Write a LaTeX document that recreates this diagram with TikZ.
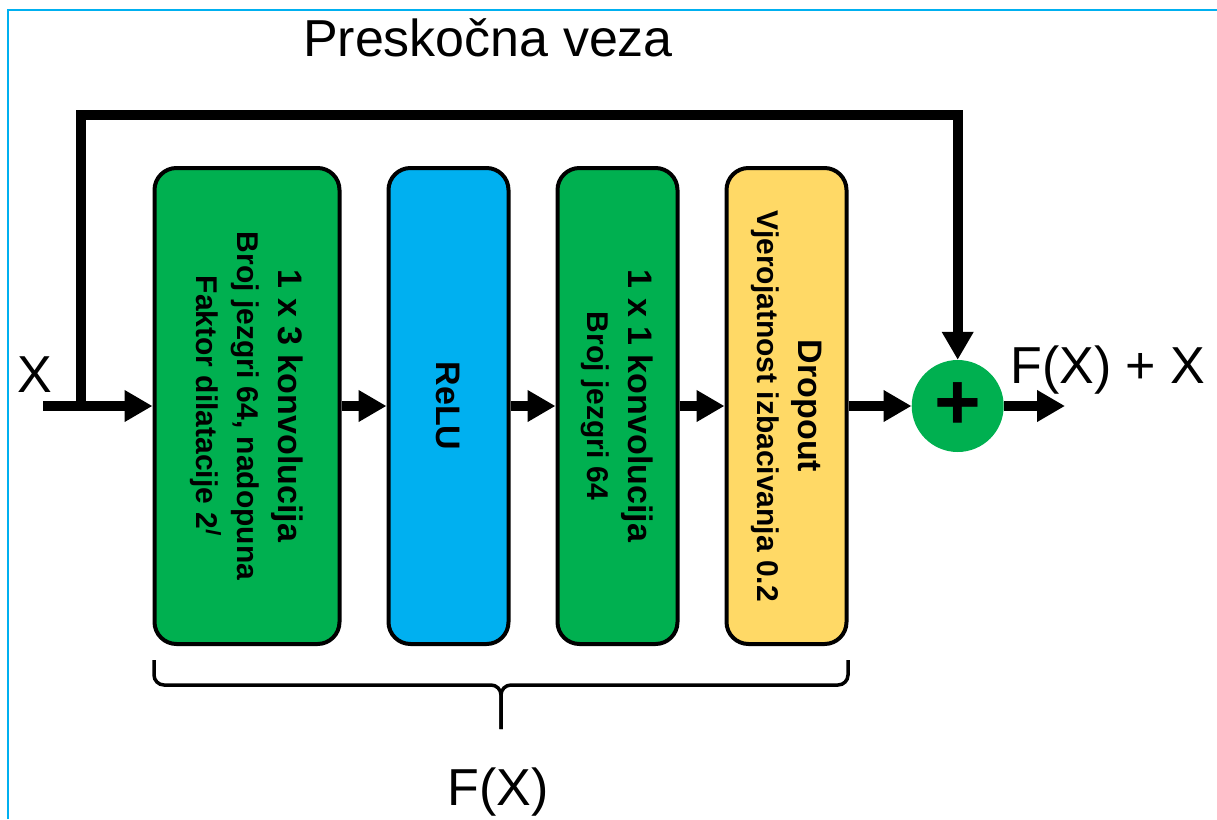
\documentclass[tikz,border=0pt]{standalone}
\usepackage{fontspec}
\setmainfont{Liberation Sans}
\usepackage{xcolor}
\usetikzlibrary{positioning, arrows.meta}
\definecolor{convgreen}{HTML}{00B050}
\definecolor{relublue}{HTML}{00B0F0}
\definecolor{dropyellow}{HTML}{FFD966}

\begin{document}
\begin{tikzpicture}[
  x=1pt, y=-1pt,
  node distance=45pt,
  block/.style={rectangle, draw, line width=4pt, rounded corners=22pt, minimum height=476pt, minimum width=120pt, inner sep=0pt},
  blocktext/.style={rotate=-90, align=center, inner sep=0pt, font=\fontsize{30}{41}\selectfont\bfseries},
  arrow/.style={-{Triangle[length=28pt, width=30pt]}, line width=10pt},
  title/.style={anchor=base, inner sep=0pt, font=\fontsize{52}{60}\selectfont},
  sumnode/.style={circle, fill=convgreen, minimum size=92pt, inner sep=0pt, font=\fontsize{80}{80}\selectfont\bfseries}
]
\useasboundingbox (0,0) rectangle (1217,819);
\draw[relublue, line width=2.5pt] (8,819) -- (8,10) -- (1217,10);

\node[block, fill=convgreen, minimum width=185pt] (conv1) at (247,406) {};
\node[block, fill=relublue, right=of conv1] (relu) {};
\node[block, fill=convgreen, right=of relu] (conv2) {};
\node[block, fill=dropyellow, right=of conv2] (drop) {};
\node[sumnode, right=63pt of drop] (sum) {+};

\node[blocktext] (conv1txt) at (conv1) {{\fontsize{34}{41}\selectfont 1 x 3 konvolucija}\\Broj jezgri 64, nadopuna\\Faktor dilatacije 2\textsuperscript{\textit{l}}};
\node[blocktext, font=\fontsize{34}{41}\selectfont\bfseries] (relutxt) at (relu) {ReLU};
\node[blocktext] (conv2txt) at (conv2) {{\fontsize{34}{41}\selectfont 1 x 1 konvolucija}\\Broj jezgri 64};
\node[blocktext] (droptxt) at (drop) {{\fontsize{34}{41}\selectfont Dropout}\\Vjerojatnost izbacivanja 0.2};

\coordinate (xin) at (43,406);
\coordinate (split) at (81,406);
\coordinate (skiptop) at (81,115);
\coordinate (out) at (1065,406);

\draw[arrow] (xin) -- (conv1.west);
\draw[arrow] (conv1) -- (relu);
\draw[arrow] (relu) -- (conv2);
\draw[arrow] (conv2) -- (drop);
\draw[arrow] (drop) -- (sum);
\draw[arrow] (sum) -- (out);
\draw[arrow] (split) -- (skiptop) -| (sum.north);

% brace under F(X)
\draw[line width=3.5pt, rounded corners=10pt] (154,660) -- (154,685) -- (501,685) -- (501,729);
\draw[line width=3.5pt, rounded corners=10pt] (848,660) -- (848,685) -- (501,685) -- (501,729);

\node[title] (skiplbl) at (488,56) {Preskočna veza};
\node[title] (xlbl) at (35,392) {X};
\node[title] (outlbl) at (1108,383) {F(X) + X};
\node[title] (fxlbl) at (498,805) {F(X)};
\end{tikzpicture}
\end{document}
